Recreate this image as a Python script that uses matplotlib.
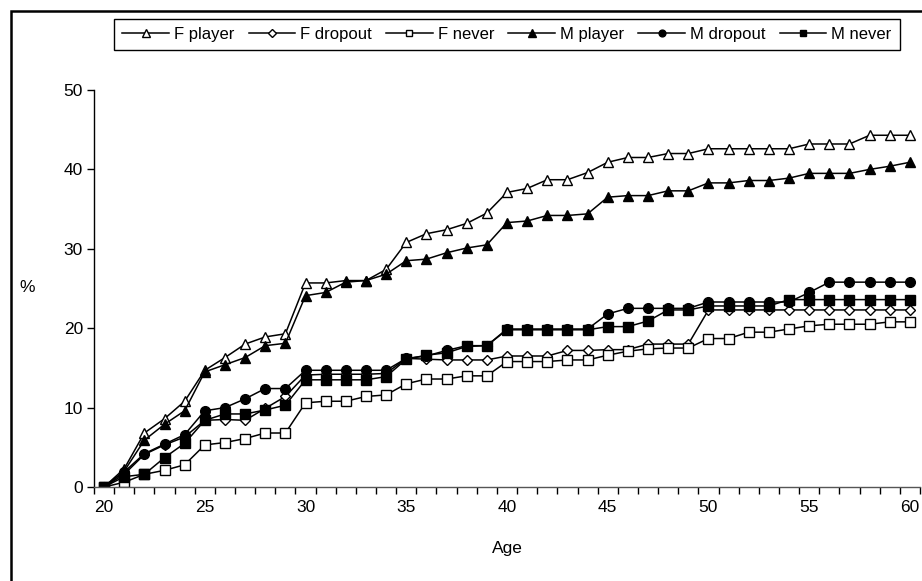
import numpy as np
import matplotlib
matplotlib.use('Agg')
import matplotlib.pyplot as plt
from matplotlib.patches import Rectangle

plt.rcParams['font.family'] = ['Liberation Sans', 'DejaVu Sans']

# ages 20..60
ages = list(range(20, 61))

f_player = [0, 2.3, 6.8, 8.6, 10.8, 14.7, 16.3, 18.0, 18.9, 19.3,
            25.7, 25.7, 26.0, 26.0, 27.4, 30.8, 31.9, 32.4, 33.2, 34.5,
            37.1, 37.6, 38.7, 38.7, 39.6, 40.9, 41.5, 41.5, 42.0, 42.0,
            42.6, 42.6, 42.6, 42.6, 42.6, 43.2, 43.2, 43.2, 44.3, 44.3, 44.3]
f_dropout = [0, 1.6, 4.1, 5.3, 6.3, 8.4, 8.5, 8.4, 9.9, 11.4,
             14.1, 14.2, 14.2, 14.2, 14.3, 16.2, 16.1, 16.0, 16.0, 16.0,
             16.5, 16.5, 16.5, 17.2, 17.2, 17.3, 17.3, 18.0, 18.0, 18.0,
             22.3, 22.3, 22.3, 22.3, 22.3, 22.3, 22.3, 22.3, 22.3, 22.3, 22.3]
f_never = [0, 0.6, 1.6, 2.1, 2.8, 5.3, 5.6, 6.1, 6.8, 6.8,
           10.6, 10.8, 10.8, 11.4, 11.6, 13.0, 13.6, 13.6, 14.0, 14.0,
           15.8, 15.8, 15.8, 16.0, 16.0, 16.6, 17.1, 17.4, 17.5, 17.5,
           18.7, 18.7, 19.5, 19.5, 19.9, 20.3, 20.5, 20.5, 20.5, 20.8, 20.8]
m_player = [0, 2.0, 5.9, 7.9, 9.6, 14.5, 15.4, 16.3, 17.8, 18.1,
            24.1, 24.5, 25.8, 26.0, 26.8, 28.5, 28.7, 29.5, 30.1, 30.5,
            33.3, 33.5, 34.2, 34.2, 34.4, 36.5, 36.7, 36.7, 37.3, 37.3,
            38.3, 38.3, 38.6, 38.6, 38.9, 39.5, 39.5, 39.5, 40.0, 40.4, 40.9]
m_dropout = [0, 1.9, 4.2, 5.4, 6.6, 9.6, 10.0, 11.1, 12.4, 12.4,
             14.7, 14.7, 14.7, 14.7, 14.7, 16.2, 16.5, 17.2, 17.8, 17.8,
             19.9, 19.9, 19.9, 19.9, 19.9, 21.8, 22.5, 22.5, 22.5, 22.5,
             23.3, 23.3, 23.3, 23.3, 23.3, 24.5, 25.8, 25.8, 25.8, 25.8, 25.8]
m_never = [0, 1.3, 1.6, 3.7, 5.5, 8.4, 9.2, 9.2, 9.7, 10.3,
           13.5, 13.5, 13.5, 13.5, 13.9, 16.1, 16.6, 16.9, 17.7, 17.8,
           19.8, 19.8, 19.8, 19.8, 19.8, 20.2, 20.2, 20.9, 22.3, 22.3,
           22.8, 22.8, 22.8, 22.8, 23.6, 23.6, 23.6, 23.6, 23.6, 23.6, 23.6]

series = [('F player', f_player, '^', 'white', 7.5),
          ('F dropout', f_dropout, 'D', 'white', 5.5),
          ('F never', f_never, 's', 'white', 6.5),
          ('M player', m_player, '^', 'black', 7.5),
          ('M dropout', m_dropout, 'o', 'black', 7),
          ('M never', m_never, 's', 'black', 6.5)]

fig = plt.figure(figsize=(9.22, 5.81), dpi=100)
ax = fig.add_axes([94/922, 94/581, 826/922, 397/581])

for name, vals, mk, fc, ms in series:
    ax.plot(ages, vals, color='black', lw=1.1, marker=mk, markersize=ms,
            markerfacecolor=fc, markeredgecolor='black', markeredgewidth=1,
            label=name)

ax.set_xlim(19.5, 60.5)
ax.set_ylim(0, 50)
ax.set_xticks(range(20, 61, 5))
ax.set_xticks(np.arange(19.5, 61, 1), minor=True)
ax.tick_params(axis='x', which='major', length=0, labelsize=12.5, pad=9)
ax.tick_params(axis='x', which='minor', length=5, width=1, direction='out')
ax.set_yticks(range(0, 51, 10))
ax.tick_params(axis='y', length=5, width=1, direction='out', labelsize=12.5, pad=3)
for s in ['top', 'right']:
    ax.spines[s].set_visible(False)
ax.spines['left'].set_linewidth(1)
ax.spines['bottom'].set_linewidth(1)
ax.spines['bottom'].set_color('#555555')

fig.text(507/922, 1 - 548/581, 'Age', ha='center', va='center', fontsize=12.5)
fig.text(27/922, 1 - 288/581, '%', ha='center', va='center', fontsize=12.5)

leg = fig.legend(loc='center', bbox_to_anchor=(507/922, 1 - 34.5/581), ncol=6,
                 fontsize=12, frameon=True, fancybox=False, framealpha=1,
                 edgecolor='black', handlelength=2.8, handletextpad=0.3,
                 columnspacing=0.85, borderpad=0.5, markerscale=0.7)
leg.get_frame().set_linewidth(1)

fig.patches.append(Rectangle((11/922, -0.1), 1.5, 1.1 - 11/581,
                             transform=fig.transFigure, fill=False,
                             edgecolor='black', linewidth=1.8))

fig.savefig('out.png', dpi=100)
